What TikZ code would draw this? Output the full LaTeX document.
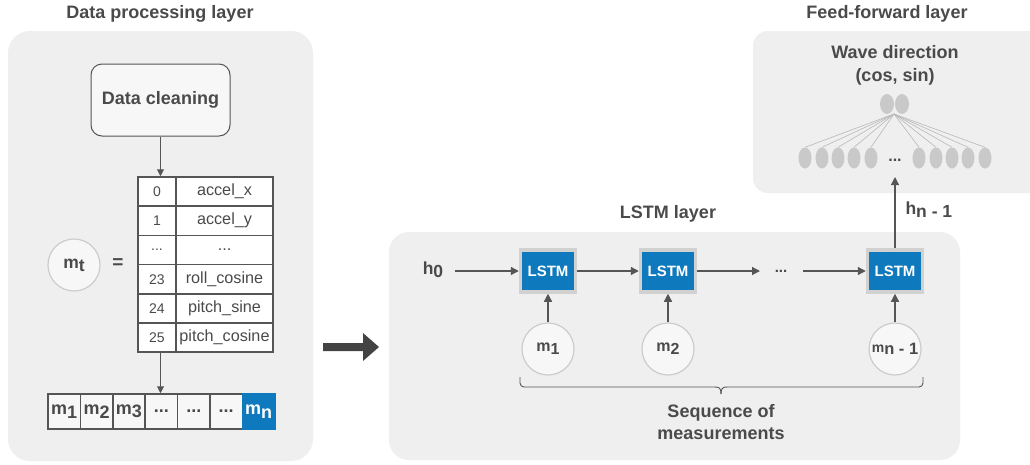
\documentclass[tikz,border=0pt]{standalone}
\usepackage{fontspec}
\setmainfont{Liberation Sans}
\usetikzlibrary{arrows.meta,shapes.geometric}
\definecolor{panel}{HTML}{EFEFEF}
\definecolor{txt}{HTML}{4A4A4A}
\definecolor{ln}{HTML}{555555}
\definecolor{blu}{HTML}{0F79BD}
\definecolor{cellfill}{HTML}{F7F7F7}
\definecolor{neuron}{HTML}{C9C9C9}
\newcommand{\sbs}[1]{\raisebox{-0.35ex}{#1}}
\newcommand{\tdots}{...}
\tikzset{
  panelbox/.style={fill=panel, draw=none, rounded corners=22},
  title/.style={font=\fontsize{18}{21}\selectfont\bfseries, text=txt},
  lbl/.style={font=\fontsize{18}{21}\selectfont\bfseries, text=txt, align=center},
  tcell/.style={draw=ln, line width=1.5, fill=white, minimum height=29.2, inner sep=0, text=txt},
  idx/.style={tcell, minimum width=38, font=\fontsize{14}{16}\selectfont},
  val/.style={tcell, minimum width=97, font=\fontsize{16.2}{19}\selectfont},
  scell/.style={draw=ln, line width=1.5, fill=cellfill, minimum width=32.4, minimum height=35, inner sep=0, text=txt, font=\fontsize{18}{21}\selectfont\bfseries},
  arr/.style={draw=ln, line width=1.3, -{Triangle[length=8,width=8]}},
  thinarr/.style={draw=ln, line width=1, -{Triangle[length=7,width=7]}},
  lstm/.style={fill=blu, draw=black!18, line width=3.5, minimum width=55, minimum height=42, inner sep=0, text=white, font=\fontsize{15}{18}\selectfont\bfseries},
  meas/.style={circle, fill=cellfill, draw=black!20, line width=1.2, minimum size=52, inner sep=0, text=txt, font=\fontsize{16}{19}\selectfont\bfseries},
  neur/.style={ellipse, fill=neuron, draw=none, minimum width=13, minimum height=21, inner sep=0},
  wire/.style={draw=black!28, line width=0.6},
  bracel/.style={draw=ln, line width=0.9},
}
\begin{document}
\begin{tikzpicture}[x=1pt,y=-1pt]
\useasboundingbox (0,0) rectangle (1030,464);
\clip (0,0) rectangle (1030,464);
\fill[white] (0,0) rectangle (1030,464);

% panels
\path[panelbox] (8,31) rectangle (313,461);
\path[panelbox, rounded corners=20] (389,232) rectangle (960,460);
\path[panelbox, rounded corners=15] (753,31) rectangle (1060,193);

% titles
\node[title] (t1) at (160,14) {Data processing layer};
\node[title] (t2) at (668,214) {LSTM layer};
\node[title] (t3) at (887,14) {Feed-forward layer};

% data cleaning
\node[draw=ln, line width=1, fill=cellfill, rounded corners=11, minimum width=139, minimum height=72, font=\fontsize{18}{21}\selectfont\bfseries, text=txt] (dc) at (160.5,100) {Data cleaning};

% table
\foreach \i/\a/\b in {0/0/accel\_x, 1/1/accel\_y, 2/\tdots/\tdots, 3/23/roll\_cosine, 4/24/pitch\_sine, 5/25/pitch\_cosine}{
  \node[idx] (c\i) at (157,191.6+29.2*\i) {\a};
  \node[val] (v\i) at (224.5,191.6+29.2*\i) {\b};
}
\draw[thinarr] (dc.south) -- (dc.south |- c0.north);

% m_t
\node[meas, font=\fontsize{17.5}{20}\selectfont\bfseries] (mt) at (74,265) {m\sbs{t}};
\node[text=txt, font=\fontsize{19}{21}\selectfont\bfseries] (eq) at (118,264) {=};

% sequence
\foreach \i/\t in {1/m\sbs{1},2/m\sbs{2},3/m\sbs{3},4/\tdots,5/\tdots,6/\tdots}{
  \node[scell] (s\i) at (64.2+32.4*\i-32.4,411.5) {\t};
}
\node[scell, fill=blu, draw=blu, text=white] (s7) at (258.6,411.5) {m\sbs{n}};
\draw[thinarr] (dc.south |- c5.south) -- (dc.south |- s4.north);

% big arrow
\fill[txt!90!black] (323,343) -- (363,343) -- (363,333) -- (379,347) -- (363,361) -- (363,351) -- (323,351) -- cycle;

% LSTM layer
\node[lbl, font=\fontsize{17.5}{20}\selectfont\bfseries] (h0) at (433,270) {h\sbs{0}};
\node[lstm] (L1) at (548,271) {LSTM};
\node[lstm] (L2) at (668,271) {LSTM};
\node[text=txt, font=\fontsize{15}{17}\selectfont\bfseries] (dots) at (781,271) {\tdots};
\node[lstm] (L3) at (895,271) {LSTM};
\draw[arr] (455,271) -- (L1.west);
\draw[arr] (L1.east) -- (L2.west);
\draw[arr] (L2.east) -- (760,271);
\draw[arr] (803,271) -- (L3.west);

\node[meas] (m1) at (548,349) {m\sbs{1}};
\node[meas] (m2) at (668,349) {m\sbs{2}};
\node[meas] (mn) at (895,349) {\fontsize{14}{16}\selectfont m\sbs{\fontsize{16.5}{18}\selectfont n - 1}};
\draw[arr] (m1.north) -- (L1.south);
\draw[arr] (m2.north) -- (L2.south);
\draw[arr] (mn.north) -- (L3.south);

% brace
\coordinate (b1) at (520,377);
\coordinate (b2) at (923,377);
\coordinate (bl) at (715,387);
\coordinate (br) at (727,387);
\coordinate (bt) at (721,394);
\draw[bracel, rounded corners=4] (b1) |- (bl);
\draw[bracel, rounded corners=4] (b2) |- (br);
\draw[bracel] (bl) .. controls (719,387) and (721,388) .. (bt);
\draw[bracel] (br) .. controls (723,387) and (721,388) .. (bt);
\node[lbl, font=\fontsize{18}{21.5}\selectfont\bfseries] (seq) at (721,422) {Sequence of\\measurements};

% feed-forward
\node[lbl, font=\fontsize{18}{23}\selectfont\bfseries] (wd) at (895,65) {Wave direction\\(cos, sin)};
\node[neur, minimum width=14, minimum height=20] (o1) at (887,104) {};
\node[neur, minimum width=14, minimum height=20] (o2) at (902,104) {};
\coordinate (hub) at (894,114);
\foreach \i/\x in {1/805,2/822,3/838,4/854,5/871,6/919,7/936,8/952,9/968,10/985}{
  \node[neur] (n\i) at (\x,158) {};
  \draw[wire] (hub) -- (n\i.north);
}
\node[text=txt, font=\fontsize{16}{18}\selectfont\bfseries] (fdots) at (895,160) {\tdots};
\draw[arr] (L3.north) -- (895,177);
\node[lbl, anchor=west, font=\fontsize{17.5}{20}\selectfont\bfseries] (hn) at (902,210) {h\sbs{n - 1}};
\end{tikzpicture}
\end{document}
